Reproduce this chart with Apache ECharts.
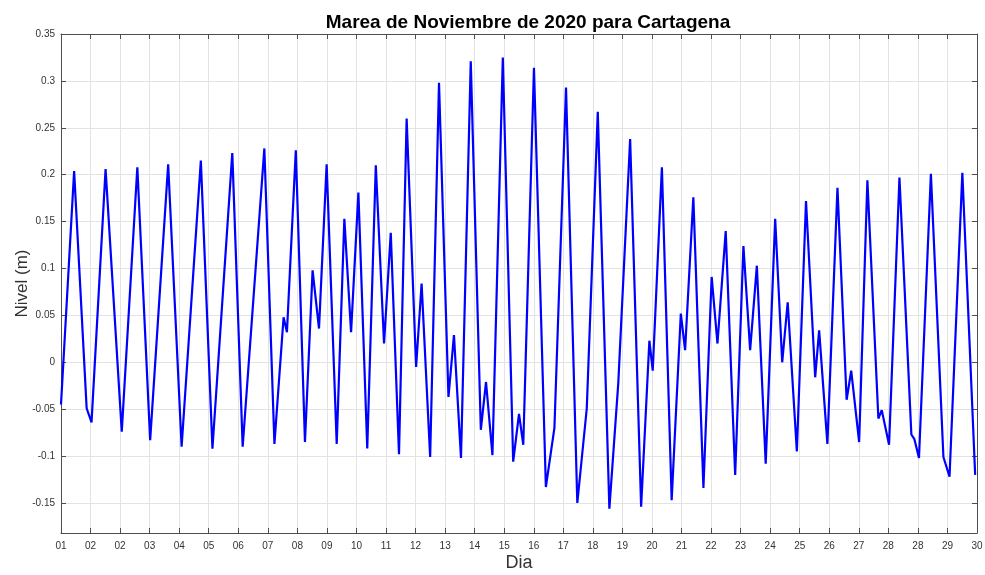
<!DOCTYPE html>
<html>
<head>
<meta charset="utf-8">
<script src="https://cdn.jsdelivr.net/npm/echarts@6/dist/echarts.min.js"></script>
<style>html,body{margin:0;padding:0;background:#fff;}#c{width:985px;height:575px;}</style>
</head>
<body>
<div id="c"></div>
<script>
// Time in days since 1 Nov 2020 00:00, tide level in metres
const dayTimes = [0.00,0.43,0.84,1.00,1.46,1.99,2.50,2.92,3.51,3.95,4.58,4.96,5.61,5.95,6.66,6.99,7.29,7.40,7.69,7.99,8.24,8.45,8.70,9.03,9.28,9.50,9.74,10.03,10.31,10.58,10.80,11.07,11.32,11.63,11.81,12.09,12.38,12.69,12.87,13.10,13.42,13.75,13.92,14.13,14.47,14.81,15.00,15.14,15.49,15.88,16.16,16.54,16.91,17.22,17.58,17.96,18.25,18.64,19.00,19.27,19.38,19.68,20.00,20.30,20.44,20.71,21.04,21.31,21.50,21.77,22.08,22.35,22.57,22.79,23.08,23.39,23.62,23.80,24.10,24.40,24.70,24.83,25.10,25.43,25.73,25.88,26.14,26.41,26.77,26.88,27.12,27.46,27.85,27.95,28.10,28.49,28.90,29.10,29.52,29.94];
const levels = [-0.045,0.204,-0.049,-0.064,0.206,-0.074,0.208,-0.083,0.211,-0.090,0.215,-0.092,0.223,-0.090,0.228,-0.087,0.048,0.032,0.226,-0.085,0.098,0.036,0.211,-0.087,0.153,0.032,0.181,-0.092,0.210,0.020,0.138,-0.098,0.260,-0.005,0.084,-0.101,0.298,-0.037,0.029,-0.102,0.321,-0.072,-0.021,-0.099,0.325,-0.106,-0.055,-0.088,0.314,-0.133,-0.070,0.293,-0.150,-0.049,0.267,-0.156,-0.023,0.238,-0.154,0.023,-0.009,0.208,-0.147,0.052,0.013,0.176,-0.134,0.091,0.020,0.140,-0.120,0.124,0.013,0.103,-0.108,0.153,0.000,0.064,-0.095,0.172,-0.016,0.034,-0.087,0.186,-0.040,-0.009,-0.085,0.194,-0.060,-0.051,-0.088,0.197,-0.077,-0.082,-0.102,0.201,-0.101,-0.122,0.202,-0.120];
const xTickLabels = ['01','02','02','03','04','05','06','07','08','09','10','11','12','13','14','15','16','17','18','19','20','21','22','23','24','25','26','27','28','28','29','30'];
const yTickValues = [-0.15,-0.1,-0.05,0,0.05,0.1,0.15,0.2,0.25,0.3,0.35];
const yTickLabels = ['-0.15','-0.1','-0.05','0','0.05','0.1','0.15','0.2','0.25','0.3','0.35'];
const xMin = 0, xMax = 30, yMin = -0.182, yMax = 0.35;

const xTickValues = xTickLabels.map((_, i) => xMin + i * (xMax - xMin) / (xTickLabels.length - 1));
const data = dayTimes.map((t, i) => [t, levels[i]]);

const font = 'Liberation Sans, Arial, Helvetica, sans-serif';
const axisLineColor = '#4d4d4d';
const labelColor = '#333';
const gridColor = '#e3e3e3';

function xLabel(v) {
  const i = Math.round((v - xMin) / (xMax - xMin) * (xTickLabels.length - 1));
  return xTickLabels[i] !== undefined ? xTickLabels[i] : '';
}
function yLabel(v) {
  let best = 0, d = 1e9;
  yTickValues.forEach((t, i) => { if (Math.abs(t - v) < d) { d = Math.abs(t - v); best = i; } });
  return yTickLabels[best];
}

const chart = echarts.init(document.getElementById('c'), null, {renderer: 'canvas'});
chart.setOption({
  backgroundColor: '#fff',
  animation: false,
  title: {
    text: 'Marea de Noviembre de 2020 para Cartagena',
    left: 523, top: 8, textAlign: 'center',
    textStyle: {fontFamily: font, fontSize: 19, fontWeight: 'bold', color: '#000'}
  },
  grid: {left: 61, right: 8, top: 34, bottom: 42, containLabel: false, outerBoundsMode: 'none'},
  xAxis: [{
    type: 'value', min: xMin, max: xMax,
    name: 'Dia', nameLocation: 'middle', nameGap: 21, nameMoveOverlap: false,
    nameTextStyle: {fontFamily: font, fontSize: 18, color: '#333'},
    axisLine: {show: true, onZero: false, lineStyle: {color: axisLineColor, width: 1}},
    axisTick: {show: true, inside: true, length: 5, customValues: xTickValues, lineStyle: {color: axisLineColor}},
    axisLabel: {show: true, customValues: xTickValues, formatter: xLabel, fontFamily: font, fontSize: 10, color: labelColor, margin: 8},
    splitLine: {show: true, lineStyle: {color: gridColor, width: 1}}
  }, {
    type: 'value', min: xMin, max: xMax, position: 'top',
    axisLine: {show: true, onZero: false, lineStyle: {color: axisLineColor, width: 1}},
    axisTick: {show: true, inside: true, length: 5, customValues: xTickValues, lineStyle: {color: axisLineColor}},
    axisLabel: {show: false},
    splitLine: {show: false}
  }],
  yAxis: [{
    type: 'value', min: yMin, max: yMax,
    name: 'Nivel (m)', nameLocation: 'middle', nameGap: 30, nameRotate: 90, nameMoveOverlap: false,
    nameTextStyle: {fontFamily: font, fontSize: 17, color: '#333'},
    axisLine: {show: true, onZero: false, lineStyle: {color: axisLineColor, width: 1}},
    axisTick: {show: true, inside: true, length: 5, customValues: yTickValues, lineStyle: {color: axisLineColor}},
    axisLabel: {show: true, customValues: yTickValues, formatter: yLabel, fontFamily: font, fontSize: 10, color: labelColor, margin: 6},
    splitLine: {show: true, lineStyle: {color: gridColor, width: 1}}
  }, {
    type: 'value', min: yMin, max: yMax, position: 'right',
    axisLine: {show: true, onZero: false, lineStyle: {color: axisLineColor, width: 1}},
    axisTick: {show: true, inside: true, length: 5, customValues: yTickValues, lineStyle: {color: axisLineColor}},
    axisLabel: {show: false},
    splitLine: {show: false}
  }],
  series: [{
    type: 'line', data: data, xAxisIndex: 0, yAxisIndex: 0,
    showSymbol: false, symbol: 'none', smooth: false,
    lineStyle: {color: '#0000ff', width: 2.2},
    z: 3
  }]
});
</script>
</body>
</html>
